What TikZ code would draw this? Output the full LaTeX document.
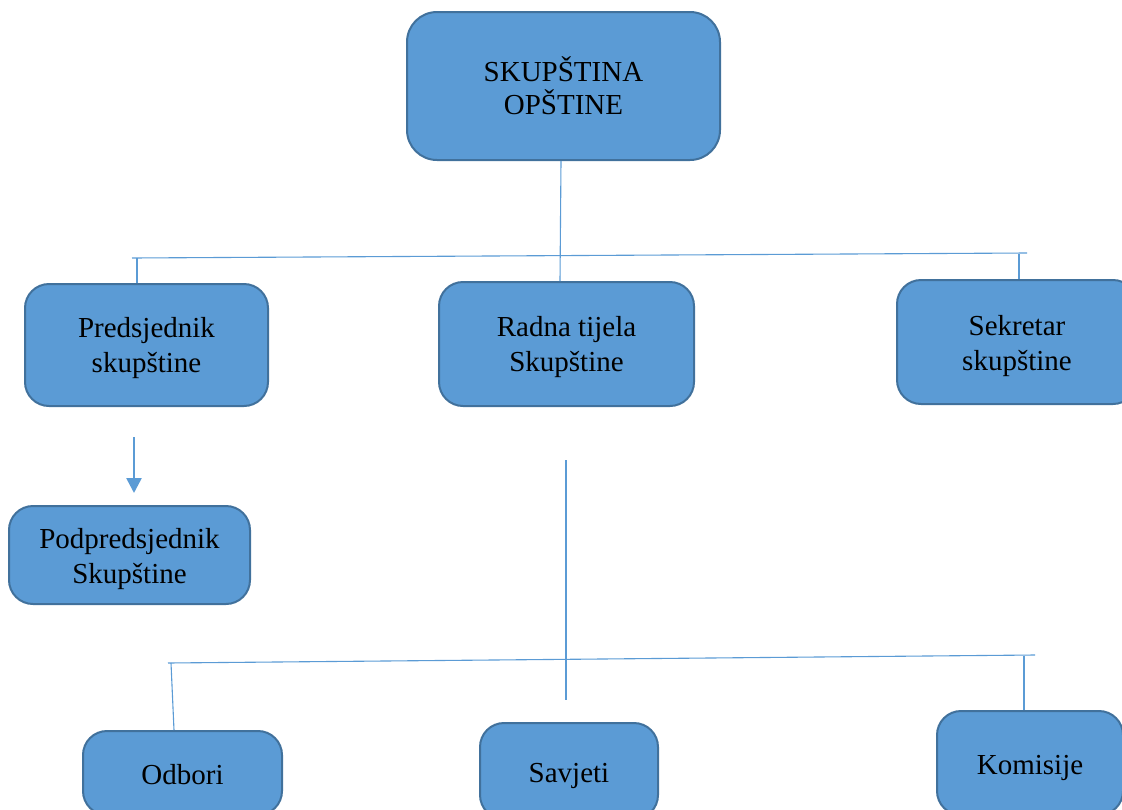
\documentclass[tikz,border=0pt]{standalone}
\usepackage{fontspec}
\setmainfont{Liberation Serif}
\usetikzlibrary{arrows.meta}
\definecolor{boxfill}{HTML}{5B9BD5}
\definecolor{boxline}{HTML}{41719C}
\definecolor{conn}{HTML}{5B9BD5}
\newcommand{\lowerby}[1]{\rule{0pt}{#1}}
\tikzset{
  orgbox/.style={draw=boxline, line width=2pt, fill=boxfill, rounded corners=24pt,
    align=center, inner sep=0pt, font=\fontsize{29}{35}\selectfont, text=black},
  link/.style={draw=conn, line width=1.1pt},
  downarrow/.style={draw=conn, line width=2.6pt, -{Triangle[width=15pt,length=15pt]}}
}
\begin{document}
\begin{tikzpicture}[x=1pt,y=-1pt]
\useasboundingbox (0,0) rectangle (1122,809);
\clip (0,0) rectangle (1122,809);
% nodes
\node[orgbox, rounded corners=30pt, minimum width=313pt, minimum height=148pt, font=\fontsize{29}{33}\selectfont] (top) at (563.5,86) {SKUPŠTINA\\OPŠTINE};
\node[orgbox, minimum width=243pt, minimum height=122pt] (pred) at (146.5,345) {\lowerby{26pt}Predsjednik\\skupštine};
\node[orgbox, minimum width=255pt, minimum height=124pt] (radna) at (566.5,344) {\lowerby{27pt}Radna tijela\\Skupštine};
\node[orgbox, minimum width=240pt, minimum height=124pt] (sek) at (1017,342) {\lowerby{29pt}Sekretar\\skupštine};
\node[orgbox, minimum width=241pt, minimum height=98pt] (pod) at (129.5,555) {\lowerby{29pt}Podpredsjednik\\Skupštine};
\node[orgbox, minimum width=199pt, minimum height=84pt] (odb) at (182.5,773) {\lowerby{23pt}Odbori};
\node[orgbox, minimum width=178pt, minimum height=96pt] (sav) at (569,771) {\lowerby{29pt}Savjeti};
\node[orgbox, minimum width=186pt, minimum height=104pt] (kom) at (1030,763) {\lowerby{29pt}Komisije};
% coordinates for free ends
\coordinate (barL) at (132,258);
\coordinate (barR) at (1027,253);
\coordinate (barP) at (137,258);
\coordinate (barS) at (1019,254);
\coordinate (arrA) at (134,437);
\coordinate (arrB) at (134,493);
\coordinate (rv1) at (566,460);
\coordinate (rv2) at (566,700);
\coordinate (bbL) at (168,663);
\coordinate (bbR) at (1035,655);
\coordinate (bbO) at (171,663);
\coordinate (bbK) at (1024,655.5);
% connectors
\draw[link] ([xshift=-2.5pt]top.south) -- ([xshift=-6.5pt]radna.north);
\draw[link] (barL) -- (barR);
\draw[link] (barP) -- ([xshift=-9.5pt]pred.north);
\draw[link] (barS) -- ([xshift=2pt]sek.north);
\draw[downarrow] (arrA) -- (arrB);
\draw[link] (rv1) -- (rv2);
\draw[link] (bbL) -- (bbR);
\draw[link] (bbO) -- ([xshift=-8.5pt]odb.north);
\draw[link] (bbK) -- ([xshift=-6pt]kom.north);
\end{tikzpicture}
\end{document}
